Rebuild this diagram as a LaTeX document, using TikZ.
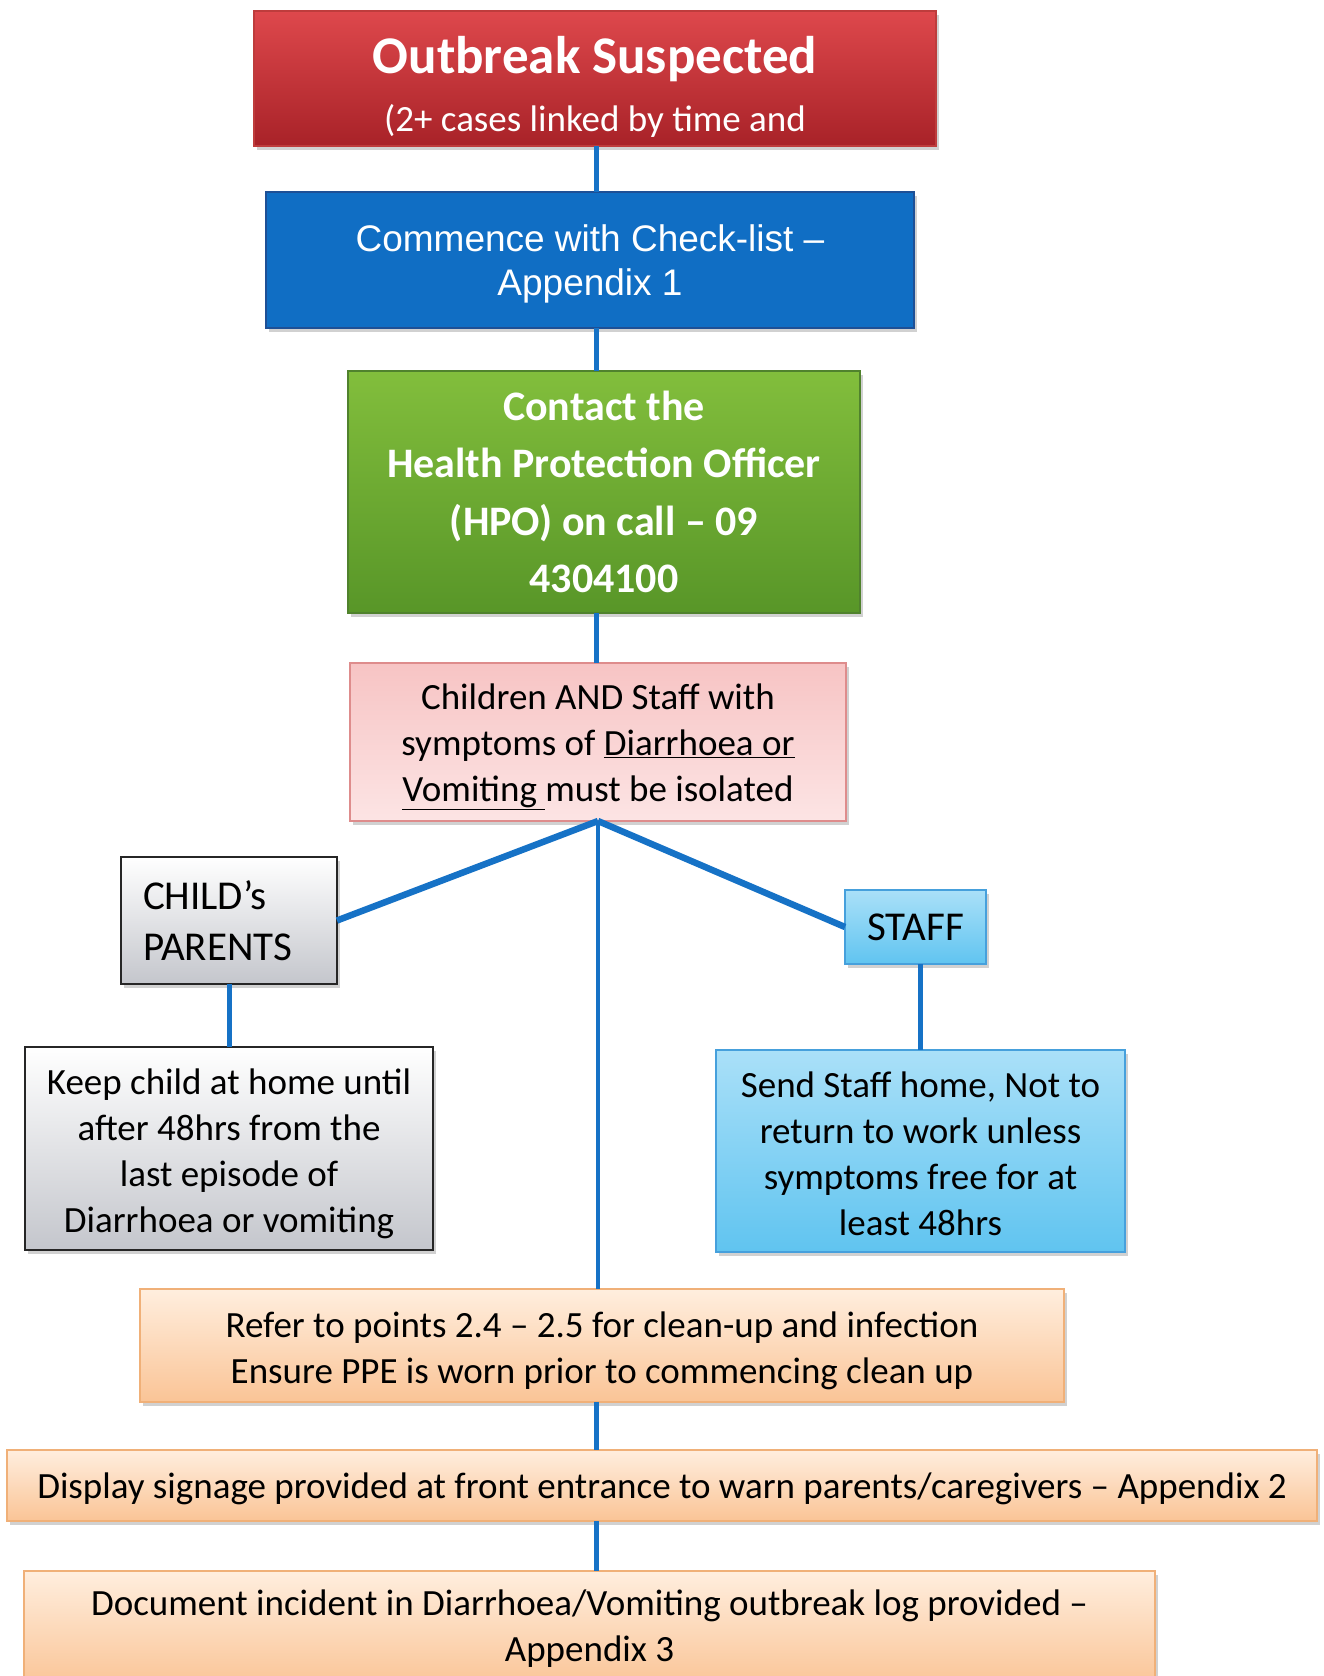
\documentclass[tikz,border=0pt]{standalone}
\usepackage{fontspec}
\setmainfont{Carlito}
\newfontfamily\arialfont{Liberation Sans}
\usepackage{tikz}
\usetikzlibrary{positioning}
\usetikzlibrary{shadows}
\definecolor{linkblue}{RGB}{22,114,198}
\definecolor{redtop}{RGB}{222,72,76}
\definecolor{redbot}{RGB}{168,34,40}
\definecolor{redline}{RGB}{190,60,60}
\definecolor{checkblue}{RGB}{16,110,196}
\definecolor{checkline}{RGB}{30,80,150}
\definecolor{greentop}{RGB}{130,190,60}
\definecolor{greenbot}{RGB}{88,150,40}
\definecolor{greenline}{RGB}{80,130,45}
\definecolor{pinktop}{RGB}{247,196,196}
\definecolor{pinkbot}{RGB}{252,228,228}
\definecolor{pinkline}{RGB}{222,140,140}
\definecolor{greybot}{RGB}{196,198,204}
\definecolor{skytop}{RGB}{170,224,248}
\definecolor{skybot}{RGB}{96,196,240}
\definecolor{skyline}{RGB}{70,160,220}
\definecolor{peachtop}{RGB}{255,238,222}
\definecolor{peachbot}{RGB}{250,196,150}
\definecolor{peachline}{RGB}{240,176,120}
\newcommand{\padtop}[1]{\rule{0pt}{#1}}
\tikzset{basic/.style={draw,line width=2pt,outer sep=0pt,inner sep=0pt,align=center,font=\fontsize{37}{46}\selectfont,drop shadow={shadow xshift=3pt,shadow yshift=-4pt,opacity=0.3,fill=black!60}}}
\tikzset{alarm/.style={basic,top color=redtop,bottom color=redbot,draw=redline,text=white,font=\fontsize{37}{58}\selectfont}}
\tikzset{checkbox/.style={basic,fill=checkblue,draw=checkline,text=white,font=\arialfont\fontsize{37}{44}\selectfont}}
\tikzset{callbox/.style={basic,top color=greentop,bottom color=greenbot,draw=greenline,text=white,font=\bfseries\fontsize{42}{57.5}\selectfont}}
\tikzset{isolbox/.style={basic,top color=pinktop,bottom color=pinkbot,draw=pinkline}}
\tikzset{parentbox/.style={basic,top color=white,bottom color=greybot,draw=black!85}}
\tikzset{staffbox/.style={basic,top color=skytop,bottom color=skybot,draw=skyline}}
\tikzset{actionbox/.style={basic,top color=peachtop,bottom color=peachbot,draw=peachline}}
\tikzset{link/.style={draw=linkblue,line width=5pt}}

\begin{document}
\begin{tikzpicture}[x=1pt,y=-1pt]
        \clip (0,0) rectangle (1324,1676);
        \coordinate (spine) at (596,0);
        \node[alarm,minimum width=682pt,minimum height=135pt] (suspect) at (595,78.5)
            {\padtop{54pt}{\bfseries\fontsize{53}{58}\selectfont Outbreak Suspected}\\(2+ cases linked by time and};
        \node[checkbox,minimum width=648pt,minimum height=136pt,below=46pt of suspect,xshift=-5pt] (checklist)
            {\padtop{34pt}Commence with Check-list –\\Appendix 1};
            \path[link] (suspect.south -| spine) -- (checklist.north -| spine);
        \node[callbox,minimum width=512pt,minimum height=242pt,below=43pt of checklist,xshift=14pt] (hpo)
            {Contact the\\Health Protection Officer\\(HPO) on call – 09\\4304100};
            \path[link] (checklist.south -| spine) -- (hpo.north -| spine);
        \node[isolbox,minimum width=496pt,minimum height=158pt,below=50pt of hpo,xshift=-6pt] (isolate)
            {\padtop{36pt}Children AND Staff with\\symptoms of \underline{Diarrhoea or}\\\underline{Vomiting\ }must be isolated};
            \path[link] (hpo.south -| spine) -- (isolate.north -| spine);
        % the two branches
        \node[parentbox,text width=172pt,inner xsep=22pt,align=left,minimum height=127pt,font=\fontsize{41}{51}\selectfont] (parents) at (229,920.5)
            {CHILD’s\\PARENTS};
            \path[link,line width=6.5pt] (isolate.south) -- (parents.east);
        \node[staffbox,minimum width=141pt,minimum height=74pt,font=\fontsize{41}{51}\selectfont] (staff) at (915.5,927)
            {STAFF};
            \path[link,line width=6.5pt] (isolate.south) -- (staff.west);
        \node[parentbox,minimum width=408pt,minimum height=203pt,below=63pt of parents] (keep)
            {\padtop{36pt}Keep child at home until\\after 48hrs from the\\last episode of\\Diarrhoea or vomiting};
            \path[link] (parents.south) -- (parents.south |- keep.north);
        \node[staffbox,minimum width=409pt,minimum height=202pt,below=86pt of staff,xshift=5pt] (send)
            {\padtop{32pt}Send Staff home, Not to\\return to work unless\\symptoms free for at\\least 48hrs};
            \path[link] (staff.south -| send.north) -- (send.north);
        % clean up and the last steps
        \node[actionbox,minimum width=924pt,minimum height=113pt] (cleanup) at (602,1345.5)
            {\padtop{36pt}Refer to points 2.4 – 2.5 for clean-up and infection\\Ensure PPE is worn prior to commencing clean up};
            \path[link,line width=4.5pt] (isolate.south) -- (isolate.south |- cleanup.north);
        \node[actionbox,minimum width=1310pt,minimum height=71pt,below=48pt of cleanup,xshift=60pt] (signage)
            {\padtop{32pt}Display signage provided at front entrance to warn parents/caregivers – Appendix 2};
            \path[link] (cleanup.south -| spine) -- (signage.north -| spine);
        \node[actionbox,minimum width=1131pt,minimum height=116pt,below=50pt of signage,xshift=-72.5pt] (logbook)
            {Document incident in Diarrhoea/Vomiting outbreak log provided –\\Appendix 3};
            \path[link] (signage.south -| spine) -- (logbook.north -| spine);
    \end{tikzpicture}
\end{document}
